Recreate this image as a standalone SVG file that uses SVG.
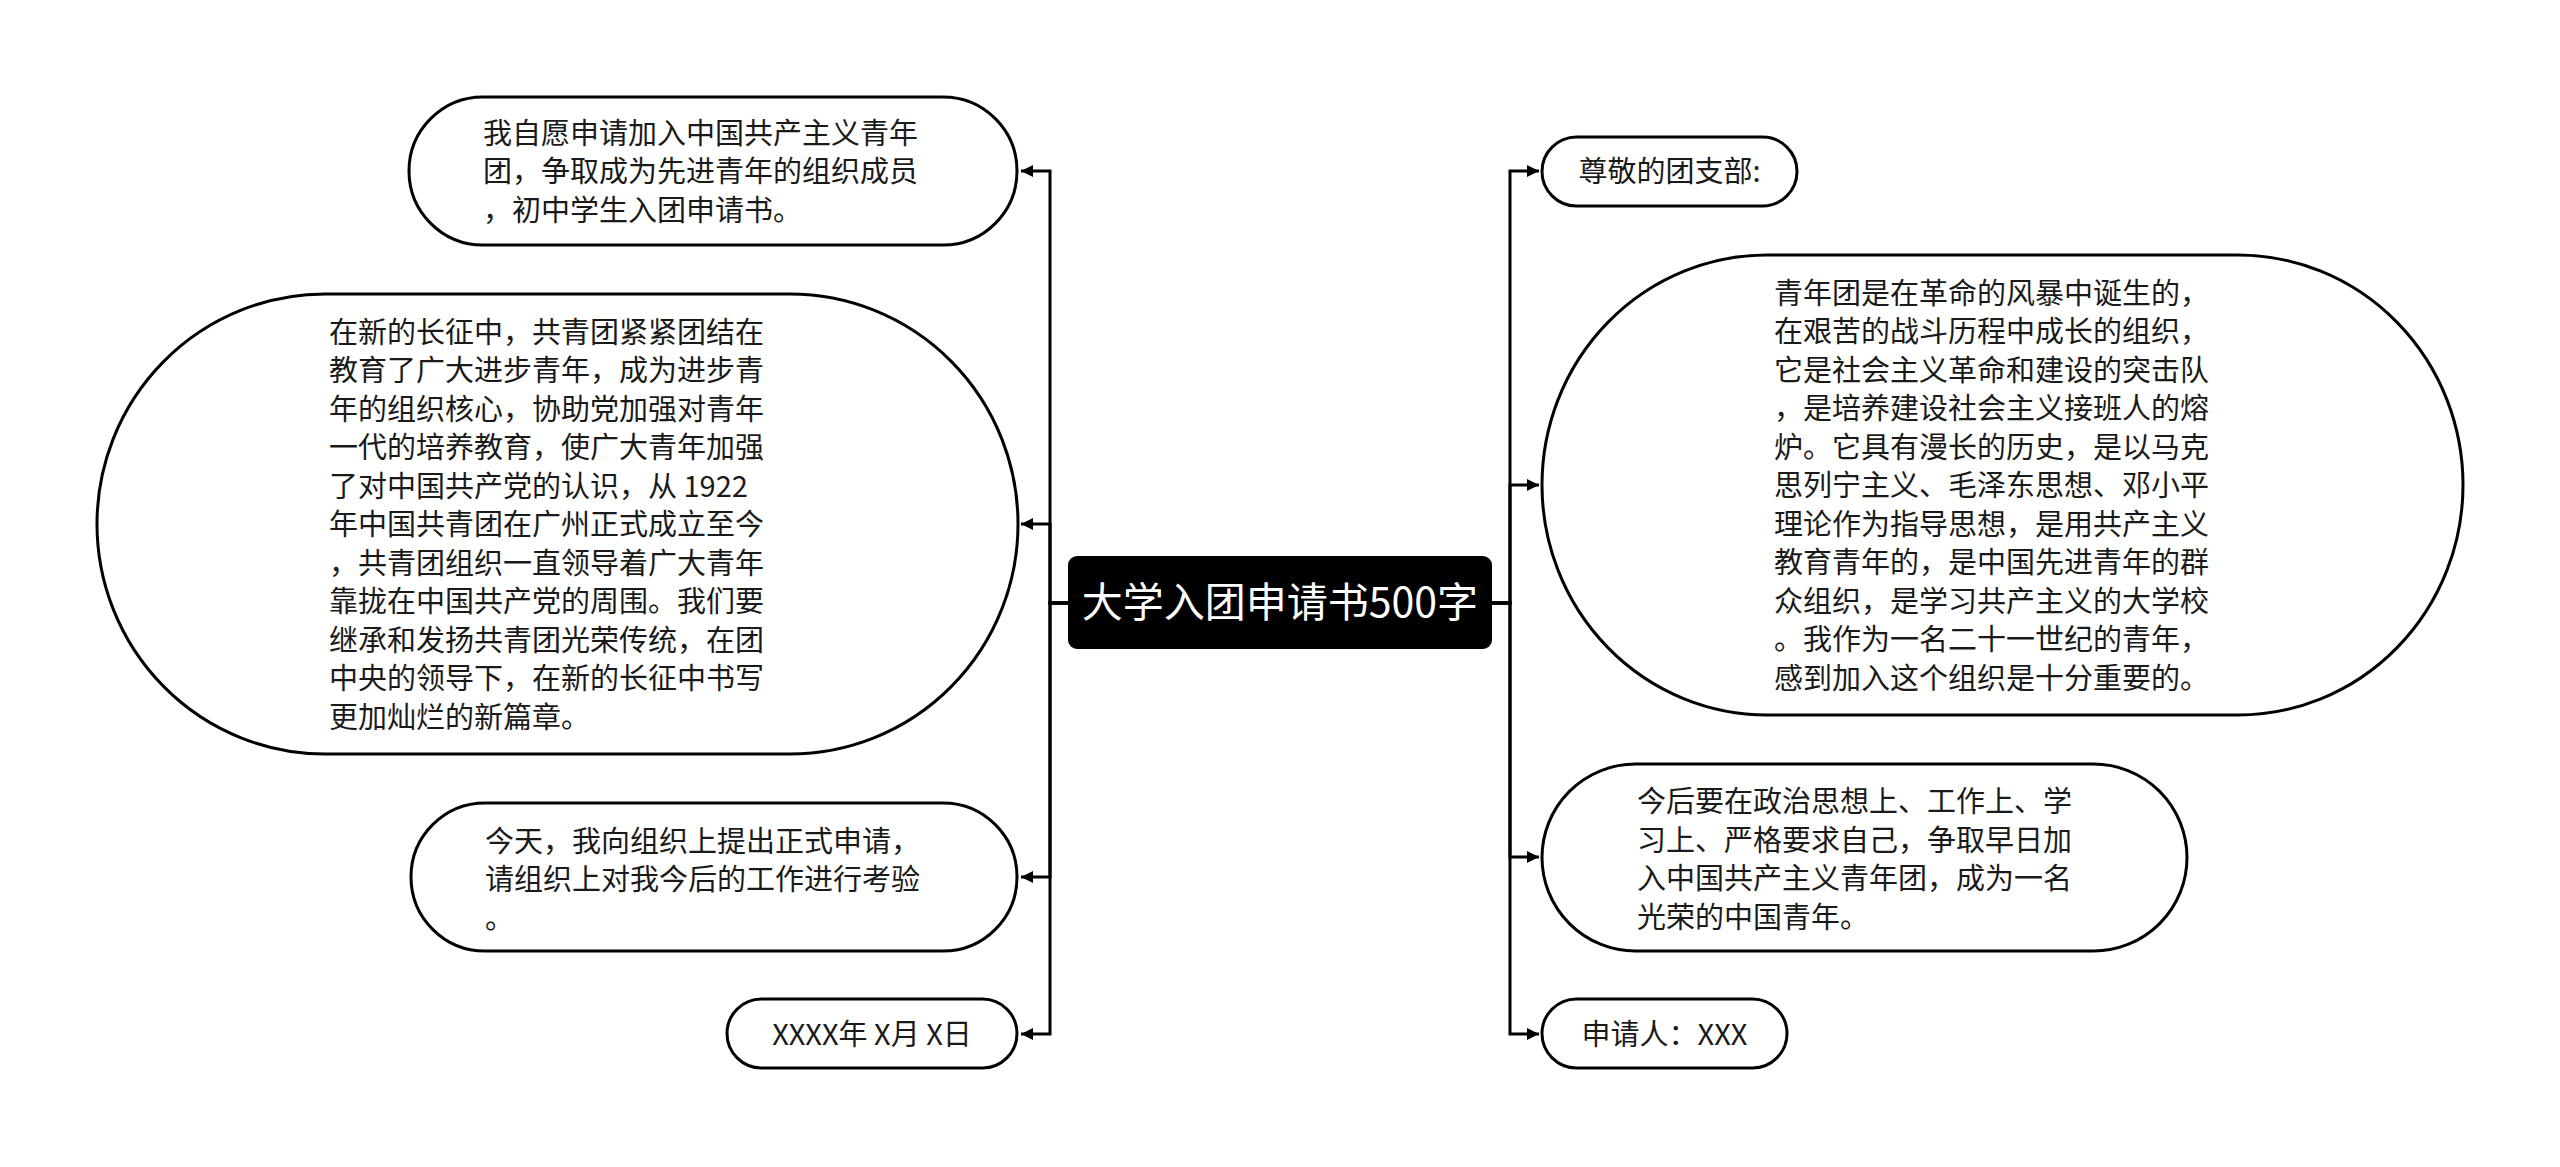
<svg xmlns="http://www.w3.org/2000/svg" width="2560" height="1167" viewBox="0 0 2560 1167">
<defs>
<marker id="arr" viewBox="0 0 10 10" refX="10" refY="5" markerWidth="12" markerHeight="12" markerUnits="userSpaceOnUse" orient="auto">
<path d="M0,0 L10,5 L0,10 z" fill="#000"/>
</marker>
<style>
.box{fill:#fff;stroke:#000;stroke-width:3}
.t{font-family:"Microsoft YaHei","Noto Sans CJK SC","Noto Sans",sans-serif;font-size:29px;fill:#1a1a1a}
.c{text-anchor:middle}
.title{font-family:"Microsoft YaHei","Noto Sans CJK SC","Noto Sans",sans-serif;font-size:41px;fill:#fff;text-anchor:middle}
.ln{fill:none;stroke:#000;stroke-width:3;marker-end:url(#arr)}
</style>
</defs>
<rect width="2560" height="1167" fill="#fff"/>
<g id="connectors">
<path class="ln" d="M1068,603 H1050 V171 H1021"/>
<path class="ln" d="M1068,603 H1050 V524 H1021"/>
<path class="ln" d="M1068,603 H1050 V877 H1021"/>
<path class="ln" d="M1068,603 H1050 V1034 H1021"/>
<path class="ln" d="M1492,603 H1510 V171 H1539"/>
<path class="ln" d="M1492,603 H1510 V485 H1539"/>
<path class="ln" d="M1492,603 H1510 V857 H1539"/>
<path class="ln" d="M1492,603 H1510 V1034 H1539"/>
</g>
<g id="center">
<rect x="1068" y="556" width="424" height="93" rx="9" fill="#000"/>
<text class="title" x="1280" y="617">大学入团申请书500字</text>
</g>
<g id="L1">
<rect class="box" x="409" y="97" width="608" height="148" rx="74"/>
<text class="t"><tspan x="483" y="143.5">我自愿申请加入中国共产主义青年</tspan><tspan x="483" y="182">团，争取成为先进青年的组织成员</tspan><tspan x="483" y="220.5">，初中学生入团申请书。</tspan></text>
</g>
<g id="L2">
<rect class="box" x="97" y="294" width="921" height="460" rx="228" ry="230"/>
<text class="t"><tspan x="329" y="342.5">在新的长征中，共青团紧紧团结在</tspan><tspan x="329" y="381">教育了广大进步青年，成为进步青</tspan><tspan x="329" y="419.5">年的组织核心，协助党加强对青年</tspan><tspan x="329" y="458">一代的培养教育，使广大青年加强</tspan><tspan x="329" y="496.5">了对中国共产党的认识，从 1922</tspan><tspan x="329" y="535">年中国共青团在广州正式成立至今</tspan><tspan x="329" y="573.5">，共青团组织一直领导着广大青年</tspan><tspan x="329" y="612">靠拢在中国共产党的周围。我们要</tspan><tspan x="329" y="650.5">继承和发扬共青团光荣传统，在团</tspan><tspan x="329" y="689">中央的领导下，在新的长征中书写</tspan><tspan x="329" y="727.5">更加灿烂的新篇章。</tspan></text>
</g>
<g id="L3">
<rect class="box" x="411" y="803" width="606" height="148" rx="74"/>
<text class="t"><tspan x="485" y="851.5">今天，我向组织上提出正式申请，</tspan><tspan x="485" y="890">请组织上对我今后的工作进行考验</tspan><tspan x="485" y="928.5">。</tspan></text>
</g>
<g id="L4">
<rect class="box" x="727" y="999" width="290" height="69" rx="34.5"/>
<text class="t c" x="872" y="1045">XXXX年 X月 X日</text>
</g>
<g id="R1">
<rect class="box" x="1542" y="137" width="255" height="69" rx="34.5"/>
<text class="t c" x="1669.5" y="182">尊敬的团支部:</text>
</g>
<g id="R2">
<rect class="box" x="1542" y="255" width="921" height="460" rx="225" ry="230"/>
<text class="t"><tspan x="1774" y="303.5">青年团是在革命的风暴中诞生的，</tspan><tspan x="1774" y="342">在艰苦的战斗历程中成长的组织，</tspan><tspan x="1774" y="380.5">它是社会主义革命和建设的突击队</tspan><tspan x="1774" y="419">，是培养建设社会主义接班人的熔</tspan><tspan x="1774" y="457.5">炉。它具有漫长的历史，是以马克</tspan><tspan x="1774" y="496">思列宁主义、毛泽东思想、邓小平</tspan><tspan x="1774" y="534.5">理论作为指导思想，是用共产主义</tspan><tspan x="1774" y="573">教育青年的，是中国先进青年的群</tspan><tspan x="1774" y="611.5">众组织，是学习共产主义的大学校</tspan><tspan x="1774" y="650">。我作为一名二十一世纪的青年，</tspan><tspan x="1774" y="688.5">感到加入这个组织是十分重要的。</tspan></text>
</g>
<g id="R3">
<rect class="box" x="1542" y="764" width="645" height="187" rx="93.5"/>
<text class="t"><tspan x="1637" y="812">今后要在政治思想上、工作上、学</tspan><tspan x="1637" y="850.5">习上、严格要求自己，争取早日加</tspan><tspan x="1637" y="889">入中国共产主义青年团，成为一名</tspan><tspan x="1637" y="927.5">光荣的中国青年。</tspan></text>
</g>
<g id="R4">
<rect class="box" x="1542" y="999" width="245" height="69" rx="34.5"/>
<text class="t c" x="1664.5" y="1045">申请人：XXX</text>
</g>
</svg>
